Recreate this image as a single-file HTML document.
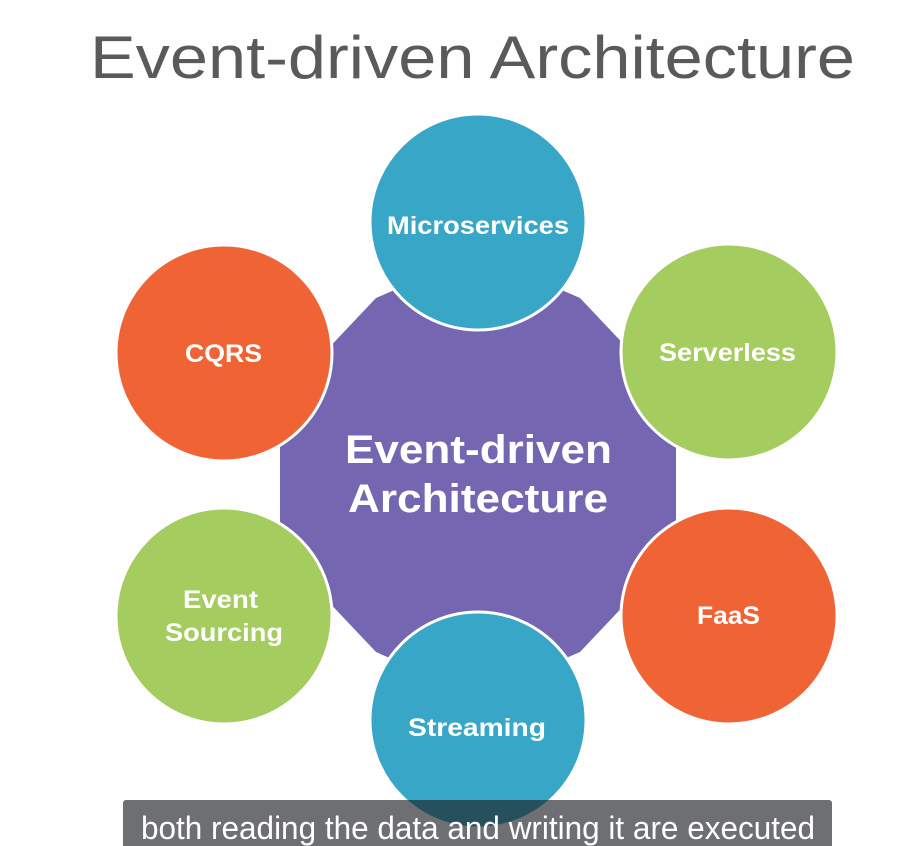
<!DOCTYPE html>
<html><head><meta charset="utf-8"><style>
html,body{margin:0;padding:0;background:#fff;}
svg{display:block;}
</style></head><body>
<svg width="919" height="846" viewBox="0 0 919 846" xmlns="http://www.w3.org/2000/svg">
<rect width="919" height="846" fill="#fefefe"/>
<text x="90" y="78" font-family="Liberation Sans, sans-serif" font-size="60" fill="#5a5a5a" textLength="765" lengthAdjust="spacingAndGlyphs" style="font-weight:300">Event-driven Architecture</text>
<polygon fill="#7466b0" points="676,528 650,578 580,652 532,673 424,673 376,652 306,578 280,528 280,422 306,372 376,298 424,277 532,277 580,298 650,372 676,422"/>
<g fill="#fff" font-family="Liberation Sans, sans-serif" font-weight="bold" font-size="40" lengthAdjust="spacingAndGlyphs">
<text x="345" y="463" textLength="267" lengthAdjust="spacingAndGlyphs">Event-driven</text>
<text x="348" y="512" textLength="260" lengthAdjust="spacingAndGlyphs">Architecture</text>
</g>
<g stroke="#fff" stroke-width="3">
<circle cx="478" cy="222" r="108" fill="#38a6c6"/>
<circle cx="224" cy="353" r="108" fill="#ef6335"/>
<circle cx="729" cy="352" r="108" fill="#a5cc5f"/>
<circle cx="224" cy="616" r="108" fill="#a5cc5f"/>
<circle cx="729" cy="616" r="108" fill="#ef6335"/>
<circle cx="478" cy="720" r="108" fill="#38a6c6"/>
</g>
<g fill="#fff" font-family="Liberation Sans, sans-serif" font-weight="bold" font-size="25">
<text x="387" y="234" textLength="182" lengthAdjust="spacingAndGlyphs">Microservices</text>
<text x="185" y="362" textLength="77" lengthAdjust="spacingAndGlyphs">CQRS</text>
<text x="659" y="361" textLength="137" lengthAdjust="spacingAndGlyphs">Serverless</text>
<text x="183" y="608" textLength="75" lengthAdjust="spacingAndGlyphs">Event</text>
<text x="165" y="641" textLength="118" lengthAdjust="spacingAndGlyphs">Sourcing</text>
<text x="697" y="624" textLength="63" lengthAdjust="spacingAndGlyphs">FaaS</text>
<text x="408" y="736" textLength="138" lengthAdjust="spacingAndGlyphs">Streaming</text>
</g>
<rect x="123" y="800" width="709" height="50" rx="3" fill="rgb(30,34,40)" fill-opacity="0.65"/>
<text x="141" y="839" font-family="Liberation Sans, sans-serif" font-size="32" fill="#fff" textLength="674" lengthAdjust="spacingAndGlyphs">both reading the data and writing it are executed</text>
</svg>
</body></html>
